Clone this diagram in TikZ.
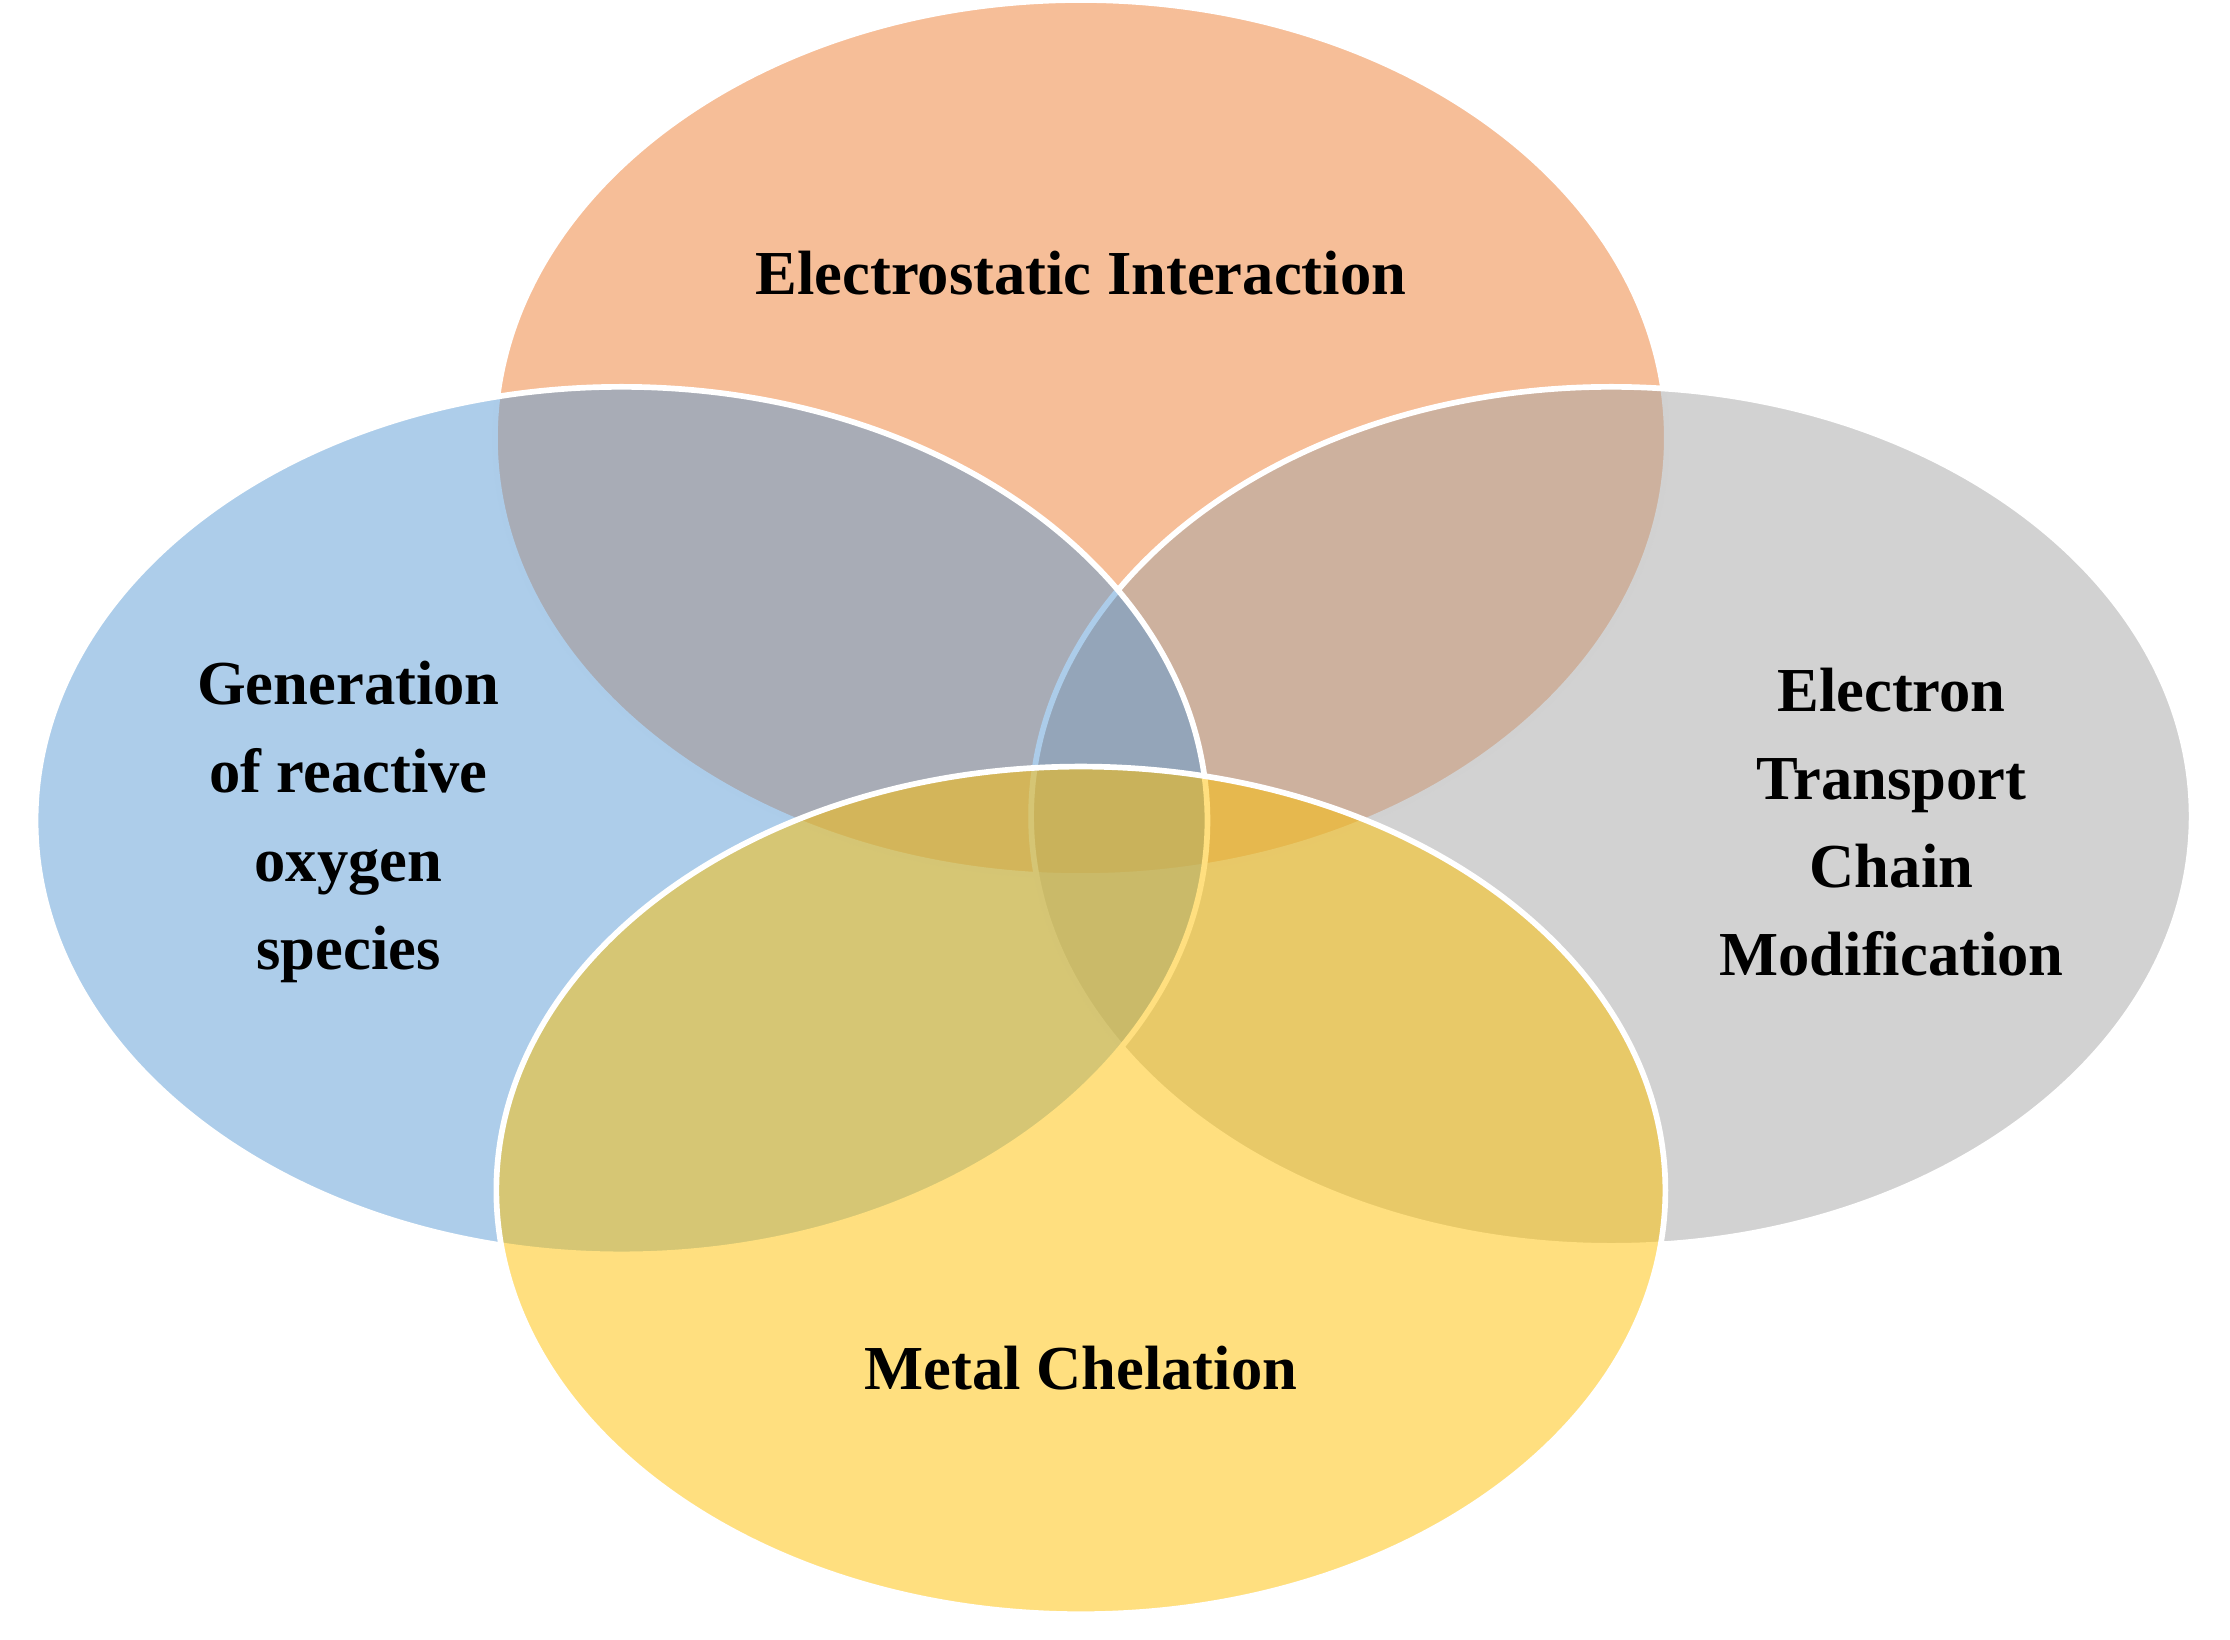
\documentclass[tikz,border=0pt]{standalone}
\usepackage{fontspec}
\setmainfont{Liberation Serif}
\begin{document}
\begin{tikzpicture}[x=1pt,y=-1pt,
  ell/.style={draw=white,line width=4pt,fill opacity=0.5},
  lab/.style={font=\fontsize{44}{62}\selectfont\bfseries,align=center,text=black}]
\useasboundingbox (0,0) rectangle (1568,1153);
\fill[ell,fill=orange!40!red!60!yellow!0!white] (0,0) circle (0pt);
\definecolor{co}{HTML}{ED7D31}\definecolor{cb}{HTML}{5B9BD5}
\definecolor{cg}{HTML}{A5A5A5}\definecolor{cy}{HTML}{FFC000}
\path[ell,fill=co] (760,308) ellipse [x radius=412,y radius=308];
\path[ell,fill=cg] (1133,574) ellipse [x radius=408,y radius=302];
\path[ell,fill=cb] (437,577) ellipse [x radius=412,y radius=305];
\path[ell,fill=cy] (760,837) ellipse [x radius=411,y radius=298];
\node[lab] (t) at (760,192) {Electrostatic Interaction};
\node[lab] (l) at (245,578) {Generation\\of reactive\\oxygen\\species};
\node[lab] (r) at (1330,578) {Electron\\Transport\\Chain\\Modification};
\node[lab] (b) at (760,962) {Metal Chelation};
\end{tikzpicture}
\end{document}
